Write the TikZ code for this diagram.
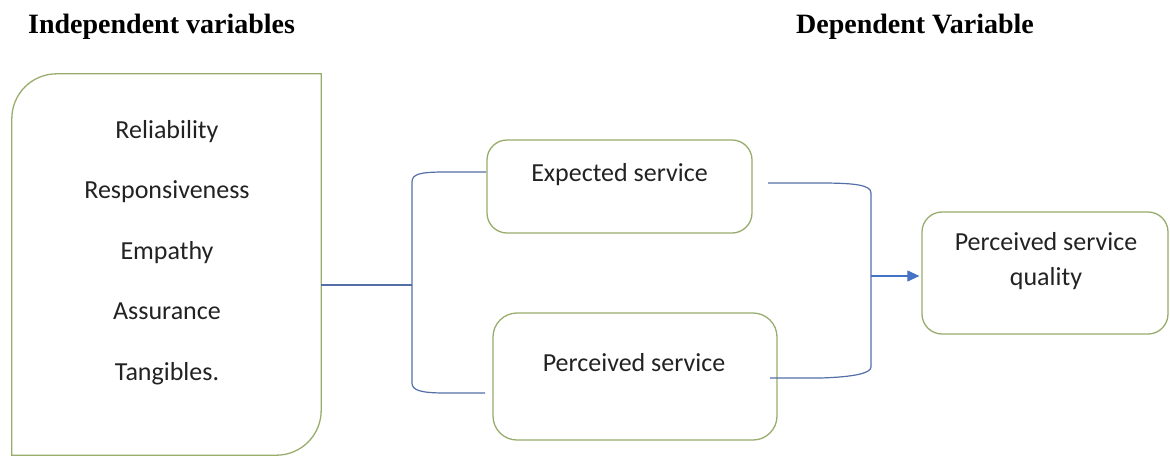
\documentclass[tikz,border=0pt]{standalone}
\usepackage{fontspec}
\setmainfont{Liberation Serif}
\newfontfamily\bodyfont{Carlito}
\usetikzlibrary{arrows.meta,calc}
\definecolor{boxgreen}{RGB}{152,172,108}
\definecolor{connblue}{RGB}{84,110,168}
\definecolor{arrowblue}{RGB}{68,114,196}
\definecolor{txt}{RGB}{34,34,34}
\begin{document}
\begin{tikzpicture}[x=1pt,y=-1pt,
  boxline/.style={draw=boxgreen, line width=1.3pt},
  rbox/.style={boxline, rounded corners=20pt, inner sep=0pt},
  conn/.style={draw=connblue, line width=1.2pt},
  body/.style={font=\bodyfont\fontsize{26}{35}\selectfont, text=txt, align=center, inner sep=0pt},
  head/.style={font=\fontsize{28}{30}\selectfont\bfseries, text=black, inner sep=0pt}]
\useasboundingbox (0,0) rectangle (1170,456);

% headings
\node[head, anchor=base west] (hI) at (28,33) {Independent variables};
\node[head, anchor=base] (hD) at (915,33) {Dependent Variable};

% left box
\node[minimum width=309pt, minimum height=381pt, inner sep=0pt] (L) at (166.5,264.5) {};
\draw[boxline] (L.north east) -- ([yshift=45pt]L.south east)
  .. controls ([yshift=20pt]L.south east) and ([xshift=-20pt]L.south east) .. ([xshift=-45pt]L.south east)
  -- (L.south west) -- ([yshift=-45pt]L.north west)
  .. controls ([yshift=-20pt]L.north west) and ([xshift=20pt]L.north west) .. ([xshift=45pt]L.north west)
  -- cycle;
\node[body, font=\bodyfont\fontsize{26}{60.5}\selectfont] (Ltext) at (167,252.5)
  {Reliability\\Responsiveness\\Empathy\\Assurance\\Tangibles.};

% middle boxes
\node[rbox, minimum width=265pt, minimum height=93pt] (E) at (619.5,186.5) {};
\node[body, anchor=base] (Et) at (619.5,181) {Expected service};
\node[rbox, rounded corners=24pt, minimum width=284pt, minimum height=127pt] (P) at (635,376.5) {};
\node[body, anchor=base] (Pt) at (634,371) {Perceived service};

% right box
\node[rbox, minimum width=246pt, minimum height=122pt] (Q) at (1045,273) {};
\node[body, anchor=base] (Qt1) at (1046,250) {Perceived service};
\node[body, anchor=base] (Qt2) at (1046,285) {quality};

% connectors
\coordinate (J1) at (412,285);
\draw[conn] (L.east |- J1) -- (J1);
\coordinate (e1) at (486,172);
\coordinate (p1) at (485,393);
\draw[conn] (e1) -- (445,172) .. controls (420,172) and (412,174) .. (412,182)
  -- (412,383) .. controls (412,390) and (420,393) .. (445,393) -- (p1);

\coordinate (e2) at (768,183);
\coordinate (p2) at (770,378);
\coordinate (J2) at (871,276);
\draw[conn] (e2) -- (820,183) .. controls (855,183) and (871,185) .. (871,193)
  -- (871,367) .. controls (871,373) and (855,377) .. (820,378) -- (p2);
\draw[draw=arrowblue, line width=1.2pt, -{Triangle[length=12pt,width=11pt,color=arrowblue]}]
  (J2) -- ([xshift=-2pt]Q.west |- J2);
\end{tikzpicture}
\end{document}
